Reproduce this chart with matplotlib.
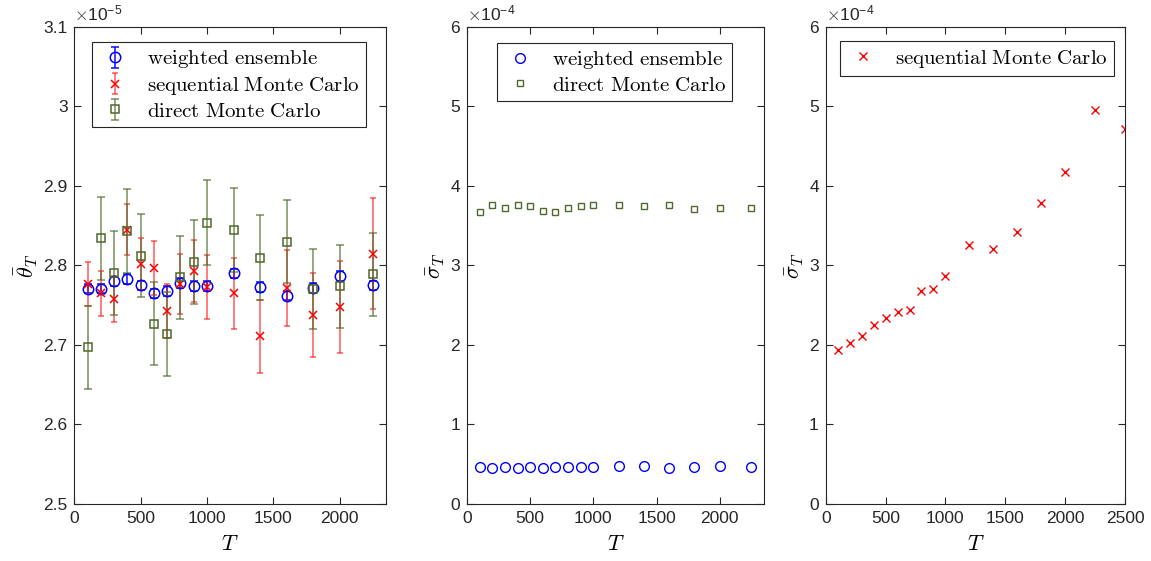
import numpy as np
import matplotlib
matplotlib.use('Agg')
import matplotlib.pyplot as plt
from matplotlib.ticker import FuncFormatter

plt.rcParams['font.family'] = ['Liberation Sans', 'DejaVu Sans']
plt.rcParams['mathtext.fontset'] = 'cm'

# time horizons
T = [100, 200, 300, 400, 500, 600, 700, 800, 900, 1000, 1200, 1400, 1600, 1800, 2000, 2250]
T_smc = T + [2500]

# mean estimates theta_T (units of 1e-5) with error bar half-widths
theta_we = [2.771, 2.771, 2.780, 2.783, 2.775, 2.765, 2.768, 2.778, 2.774, 2.774, 2.790, 2.773, 2.762, 2.772, 2.787, 2.775]
err_we = [0.006, 0.006, 0.006, 0.006, 0.006, 0.006, 0.006, 0.006, 0.006, 0.006, 0.006, 0.006, 0.006, 0.006, 0.006, 0.006]
theta_smc = [2.777, 2.765, 2.758, 2.845, 2.802, 2.797, 2.743, 2.777, 2.793, 2.773, 2.765, 2.711, 2.772, 2.738, 2.748, 2.815]
err_smc = [0.0275, 0.0285, 0.029, 0.032, 0.033, 0.034, 0.034, 0.038, 0.039, 0.040, 0.045, 0.046, 0.048, 0.053, 0.058, 0.070]
theta_dmc = [2.697, 2.834, 2.791, 2.843, 2.8125, 2.727, 2.714, 2.785, 2.804, 2.854, 2.845, 2.810, 2.830, 2.770, 2.774, 2.789]
err_dmc = [0.0526, 0.0527, 0.0527, 0.053, 0.0525, 0.0527, 0.0527, 0.0523, 0.053, 0.053, 0.053, 0.053, 0.0525, 0.0504, 0.052, 0.052]

# standard deviations sigma_T (units of 1e-4)
sigma_we = [0.469, 0.456, 0.465, 0.456, 0.465, 0.448, 0.465, 0.461, 0.461, 0.469, 0.473, 0.473, 0.456, 0.461, 0.477, 0.469]
sigma_dmc = [3.672, 3.755, 3.726, 3.763, 3.747, 3.680, 3.676, 3.726, 3.747, 3.763, 3.763, 3.747, 3.755, 3.714, 3.718, 3.726]
sigma_smc = [1.937, 2.029, 2.113, 2.255, 2.335, 2.414, 2.439, 2.682, 2.699, 2.862, 3.255, 3.213, 3.423, 3.791, 4.172, 4.950, 4.715]

BLUE = '#0000ff'
RED = '#ff0000'
GREEN = '#4f6a2a'
AXC = '#262626'


def style_axes(ax):
    """MATLAB-like box with inward ticks on all sides"""
    for s in ax.spines.values():
        s.set_color(AXC)
        s.set_linewidth(0.8)
    ax.tick_params(direction='in', top=True, right=True, length=5, width=0.8,
                   labelsize=12.5, colors=AXC, pad=5)
    ax.yaxis.set_major_formatter(FuncFormatter(lambda v, p: '%g' % round(v, 6)))
    ax.set_xlabel(r'$T$', fontsize=16, labelpad=6)


def offset_label(ax, expo):
    ax.text(0.0, 1.008, r'$\times\mathregular{10^{%d}}$' % expo, transform=ax.transAxes,
            ha='left', va='bottom', fontsize=12.5, color=AXC)


def leg(ax, loc, anchor):
    l = ax.legend(loc=loc, bbox_to_anchor=anchor, fontsize=15, fancybox=False,
                  framealpha=1, edgecolor=AXC, handlelength=1.6, handletextpad=0.75,
                  borderpad=0.3, labelspacing=0.22, borderaxespad=0)
    l.get_frame().set_linewidth(0.8)
    return l


fig = plt.figure(figsize=(11.51, 5.61), dpi=100)
ax1 = fig.add_axes([0.0647, 0.1016, 0.2706, 0.8503])
ax2 = fig.add_axes([0.4057, 0.1016, 0.2580, 0.8503])
ax3 = fig.add_axes([0.7174, 0.1016, 0.2600, 0.8503])

# left: estimates with error bars
series = [(theta_we, err_we, BLUE, 'o', 7.5, 3, 0.95, r'$\mathrm{weighted\ ensemble}$'),
          (theta_smc, err_smc, RED, 'x', 6, 2.5, 0.65, r'$\mathrm{sequential\ Monte\ Carlo}$'),
          (theta_dmc, err_dmc, GREEN, 's', 6, 3, 0.75, r'$\mathrm{direct\ Monte\ Carlo}$')]
for y, e, c, m, ms, cs, a, lab in series:
    cont = ax1.errorbar(T, y, yerr=e, fmt=m, color=c, mfc='none', mec=c, ms=ms,
                        mew=1.1, capsize=cs, elinewidth=1.1, capthick=1.1, label=lab)
    for cl in cont[1]:
        cl.set_alpha(a)
    for bl in cont[2]:
        bl.set_alpha(a)
ax1.set_xlim(0, 2350)
ax1.set_ylim(2.5, 3.1)
ax1.set_xticks([0, 500, 1000, 1500, 2000])
ax1.set_yticks(np.arange(2.5, 3.11, 0.1))
style_axes(ax1)
ax1.set_ylabel(r'$\bar{\theta}_T$', fontsize=16, labelpad=2)
offset_label(ax1, -5)
leg(ax1, 'upper center', (0.496, 0.968))

# middle: sigma for WE and DMC
ax2.plot(T, sigma_we, 'o', color=BLUE, mfc='none', ms=7, mew=1.0, label=r'$\mathrm{weighted\ ensemble}$')
ax2.plot(T, sigma_dmc, 's', color=GREEN, mfc='none', ms=5, mew=1.0, label=r'$\mathrm{direct\ Monte\ Carlo}$')
ax2.set_xlim(0, 2350)
ax2.set_ylim(0, 6)
ax2.set_xticks([0, 500, 1000, 1500, 2000])
style_axes(ax2)
ax2.set_ylabel(r'$\bar{\sigma}_T$', fontsize=16, labelpad=2)
offset_label(ax2, -4)
leg(ax2, 'upper center', (0.497, 0.967))

# right: sigma for SMC
ax3.plot(T_smc, sigma_smc, 'x', color=RED, ms=6, mew=1.0, label=r'$\mathrm{sequential\ Monte\ Carlo}$')
ax3.set_xlim(0, 2500)
ax3.set_ylim(0, 6)
ax3.set_xticks([0, 500, 1000, 1500, 2000, 2500])
style_axes(ax3)
ax3.set_ylabel(r'$\bar{\sigma}_T$', fontsize=16, labelpad=2)
offset_label(ax3, -4)
leg(ax3, 'upper right', (0.964, 0.97))

fig.savefig('out.png', dpi=100)
